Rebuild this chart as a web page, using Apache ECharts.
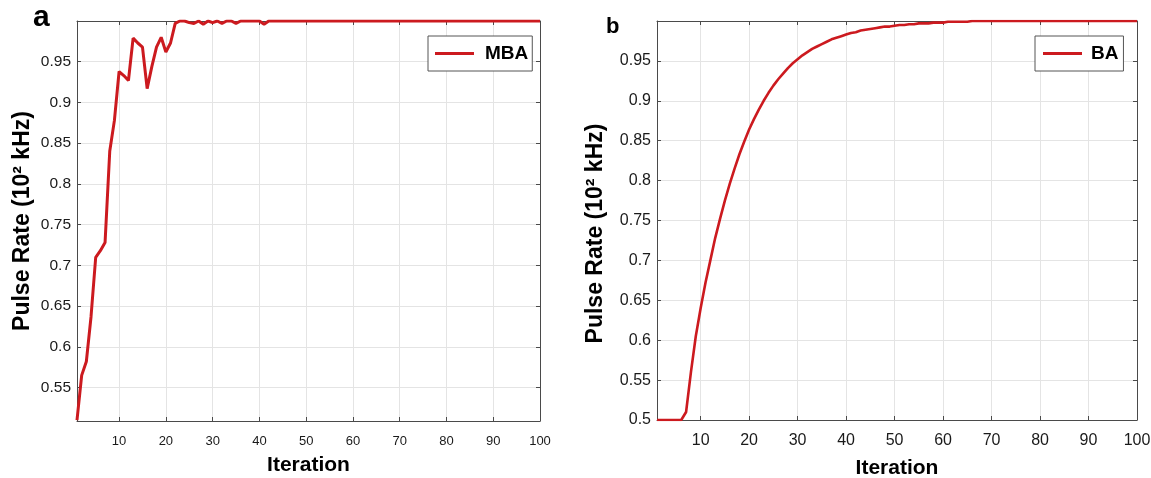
<!DOCTYPE html>
<html>
<head>
<meta charset="utf-8">
<script src="https://cdn.jsdelivr.net/npm/echarts@6/dist/echarts.min.js"></script>
<style>
html,body{margin:0;padding:0;background:#fff;}
#c{width:1151px;height:478px;}
</style>
</head>
<body>
<div id="c"></div>
<script>
// ---- data ----
const iterations = Array.from({length: 100}, (_, i) => String(i + 1));
const mbaRate = [
  0.510, 0.565, 0.582, 0.637, 0.710, 0.718, 0.728, 0.840, 0.878, 0.938,
  0.933, 0.927, 0.979, 0.973, 0.968, 0.917, 0.944, 0.968, 0.980, 0.962,
  0.973, 0.997, 1.000, 1.000, 0.998, 0.997, 1.000, 0.996, 1.000, 0.998,
  1.000, 0.997, 1.000, 1.000, 0.997, 1.000, 1.000, 1.000, 1.000, 1.000,
  0.996, 1.000, 1.000, 1.000, 1.000, 1.000, 1.000, 1.000, 1.000, 1.000,
  1.000, 1.000, 1.000, 1.000, 1.000, 1.000, 1.000, 1.000, 1.000, 1.000,
  1.000, 1.000, 1.000, 1.000, 1.000, 1.000, 1.000, 1.000, 1.000, 1.000,
  1.000, 1.000, 1.000, 1.000, 1.000, 1.000, 1.000, 1.000, 1.000, 1.000,
  1.000, 1.000, 1.000, 1.000, 1.000, 1.000, 1.000, 1.000, 1.000, 1.000,
  1.000, 1.000, 1.000, 1.000, 1.000, 1.000, 1.000, 1.000, 1.000, 1.000
];
const baRate = [
  0.500, 0.500, 0.500, 0.500, 0.500, 0.500, 0.510, 0.560, 0.605, 0.640,
  0.672, 0.700, 0.728, 0.752, 0.775, 0.796, 0.815, 0.833, 0.849, 0.864,
  0.877, 0.889, 0.900, 0.910, 0.919, 0.927, 0.934, 0.941, 0.947, 0.952,
  0.957, 0.961, 0.965, 0.968, 0.971, 0.974, 0.977, 0.979, 0.981, 0.983,
  0.985, 0.986, 0.988, 0.989, 0.990, 0.991, 0.992, 0.993, 0.993, 0.994,
  0.995, 0.995, 0.996, 0.996, 0.997, 0.997, 0.997, 0.998, 0.998, 0.998,
  0.999, 0.999, 0.999, 0.999, 0.999, 1.000, 1.000, 1.000, 1.000, 1.000,
  1.000, 1.000, 1.000, 1.000, 1.000, 1.000, 1.000, 1.000, 1.000, 1.000,
  1.000, 1.000, 1.000, 1.000, 1.000, 1.000, 1.000, 1.000, 1.000, 1.000,
  1.000, 1.000, 1.000, 1.000, 1.000, 1.000, 1.000, 1.000, 1.000, 1.000
];
const xTickLabels = ['10','20','30','40','50','60','70','80','90','100'];
const yTicksA = [0.55, 0.6, 0.65, 0.7, 0.75, 0.8, 0.85, 0.9, 0.95];
const yTicksB = [0.5, 0.55, 0.6, 0.65, 0.7, 0.75, 0.8, 0.85, 0.9, 0.95];
const yTitle = 'Pulse Rate (10\u00B2 kHz)';
const xTitle = 'Iteration';

// ---- styles ----
const RED = '#cc1a1f';
const AXIS = '#4a4a4a';
const GRIDC = '#e4e4e4';
const SANS = "'Liberation Sans',Arial,sans-serif";
const showTick = (i, v) => xTickLabels.indexOf(v) >= 0;

function xAxisMain(grid, fs, gap, margin) {
  return {
    type: 'category', gridIndex: grid, data: iterations, boundaryGap: false,
    axisLine: {lineStyle: {color: AXIS, width: 1}},
    axisTick: {inside: true, length: 4, interval: showTick, lineStyle: {color: AXIS}},
    axisLabel: {interval: showTick, fontSize: fs, color: '#1a1a1a', fontFamily: SANS, margin: margin},
    splitLine: {show: true, interval: showTick, lineStyle: {color: GRIDC, width: 1}},
    name: xTitle, nameLocation: 'middle', nameGap: gap,
    nameTextStyle: {fontSize: 21, fontWeight: 'bold', color: '#000', fontFamily: SANS}
  };
}
function xAxisTop(grid) {
  return {
    type: 'category', gridIndex: grid, data: iterations, boundaryGap: false, position: 'top',
    axisLine: {onZero: false, lineStyle: {color: AXIS, width: 1}},
    axisTick: {inside: true, length: 4, interval: showTick, lineStyle: {color: AXIS}},
    axisLabel: {show: false}, splitLine: {show: false}
  };
}
function yAxisMain(grid, min, ticks, fs, gap, pad) {
  return {
    type: 'value', gridIndex: grid, min: min, max: 1,
    axisLine: {show: true, lineStyle: {color: AXIS, width: 1}},
    axisTick: {show: true, inside: true, length: 4, customValues: ticks, lineStyle: {color: AXIS}},
    axisLabel: {customValues: ticks, fontSize: fs, color: '#1a1a1a', fontFamily: SANS, margin: 6,
      formatter: v => String(Math.round(v * 100) / 100)},
    splitLine: {show: true, lineStyle: {color: GRIDC, width: 1}},
    name: yTitle, nameLocation: 'middle', nameRotate: 90, nameGap: gap,
    nameTextStyle: {fontSize: 23, fontWeight: 'bold', color: '#000', fontFamily: SANS, padding: pad}
  };
}
function yAxisRight(grid, min, ticks) {
  return {
    type: 'value', gridIndex: grid, min: min, max: 1, position: 'right',
    axisLine: {show: true, onZero: false, lineStyle: {color: AXIS, width: 1}},
    axisTick: {show: true, inside: true, length: 4, customValues: ticks, lineStyle: {color: AXIS}},
    axisLabel: {show: false}, splitLine: {show: false}
  };
}
function legendBox(name, left, fs, pad, tpad) {
  return {
    data: [name], left: left, top: 36, orient: 'horizontal',
    icon: 'rect', itemWidth: 39, itemHeight: 3,
    padding: pad, borderColor: '#555', borderWidth: 1, backgroundColor: '#fff',
    textStyle: {fontSize: fs, fontWeight: 'bold', color: '#000', fontFamily: SANS, padding: tpad}
  };
}

const chart = echarts.init(document.getElementById('c'), null, {renderer: 'canvas'});
chart.setOption({
  animation: false,
  backgroundColor: '#fff',
  title: [
    {text: 'a', left: 33, top: 3, padding: 0, textStyle: {fontSize: 30, fontWeight: 'bold', color: '#000', fontFamily: SANS}},
    {text: 'b', left: 606, top: 16, padding: 0, textStyle: {fontSize: 22, fontWeight: 'bold', color: '#000', fontFamily: SANS}}
  ],
  grid: [
    {left: 77, top: 21, width: 463, height: 400, containLabel: false, outerBoundsMode: 'none'},
    {left: 657, top: 21, width: 480, height: 399, containLabel: false, outerBoundsMode: 'none'}
  ],
  legend: [
    legendBox('MBA', 428, 19, [8, 4, 8, 7], [0, 0, 0, 6]),
    legendBox('BA', 1035, 19, [8, 5, 8, 8], [0, 0, 0, 4])
  ],
  xAxis: [xAxisMain(0, 13, 34, 14), xAxisTop(0), xAxisMain(1, 16, 38, 13), xAxisTop(1)],
  yAxis: [
    yAxisMain(0, 0.509, yTicksA, 15.5, 43, [0, 0, 0, 0]),
    yAxisRight(0, 0.509, yTicksA),
    yAxisMain(1, 0.5, yTicksB, 16, 50, [0, 26, 0, 0]),
    yAxisRight(1, 0.5, yTicksB)
  ],
  series: [
    {name: 'MBA', type: 'line', xAxisIndex: 0, yAxisIndex: 0, data: mbaRate,
      showSymbol: false, color: RED, lineStyle: {width: 3, color: RED}},
    {name: 'BA', type: 'line', xAxisIndex: 2, yAxisIndex: 2, data: baRate,
      showSymbol: false, color: RED, lineStyle: {width: 2.6, color: RED}}
  ]
});
</script>
</body>
</html>
